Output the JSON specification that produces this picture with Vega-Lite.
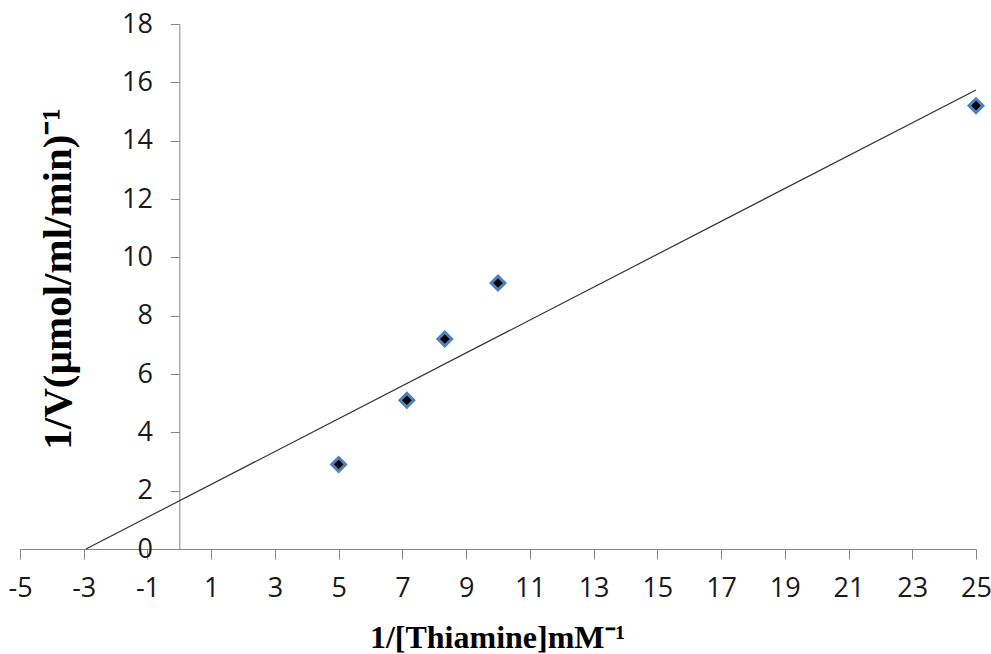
{
  "$schema": "https://vega.github.io/schema/vega-lite/v6.json",
  "width": 956,
  "height": 525,
  "autosize": {"type": "none"},
  "padding": {"left": 20, "top": 24, "right": 15, "bottom": 105},
  "background": "white",
  "config": {"view": {"stroke": null}},
  "layer": [
    {
      "data": {"values": [{"x": -2.93, "y": 0}, {"x": 25, "y": 15.74}]},
      "mark": {"type": "line", "color": "#333333", "strokeWidth": 1.2},
      "encoding": {
        "x": {"field": "x", "type": "quantitative", "scale": {"domain": [-5, 25], "nice": false, "zero": false}},
        "y": {"field": "y", "type": "quantitative", "scale": {"domain": [0, 18], "nice": false}}
      }
    },
    {
      "data": {"values": [
        {"x": 5, "y": 2.9},
        {"x": 7.14, "y": 5.1},
        {"x": 8.33, "y": 7.2},
        {"x": 10, "y": 9.12},
        {"x": 25, "y": 15.2}
      ]},
      "mark": {"type": "point", "shape": "diamond", "filled": true, "fill": "#000000", "stroke": "#4F81BD", "strokeWidth": 3, "size": 190, "opacity": 1},
      "encoding": {
        "x": {
          "field": "x", "type": "quantitative",
          "scale": {"domain": [-5, 25], "nice": false, "zero": false},
          "axis": {
            "values": [-5, -3, -1, 1, 3, 5, 7, 9, 11, 13, 15, 17, 19, 21, 23, 25],
            "labelExpr": "'' + datum.value",
            "grid": false,
            "domainColor": "#868686",
            "tickColor": "#868686",
            "tickSize": 10,
            "labelFlush": false,
            "labelOverlap": false,
            "labelFont": "Open Sans",
            "labelFontSize": 27,
            "labelColor": "#1a1a1a",
            "labelPadding": 16,
            "title": "1/[Thiamine]mM⁻¹",
            "titleFont": "Liberation Serif",
            "titleFontWeight": "bold",
            "titleFontSize": 32,
            "titleColor": "#000000",
            "titleX": 477,
            "titleY": 98,
            "titleBaseline": "alphabetic",
            "titleAlign": "center"
          }
        },
        "y": {
          "field": "y", "type": "quantitative",
          "scale": {"domain": [0, 18], "nice": false},
          "axis": {
            "values": [0, 2, 4, 6, 8, 10, 12, 14, 16, 18],
            "offset": -159.33,
            "grid": false,
            "domainColor": "#868686",
            "tickColor": "#868686",
            "tickSize": 9,
            "labelOverlap": false,
            "labelFont": "Open Sans",
            "labelFontSize": 27,
            "labelColor": "#1a1a1a",
            "labelPadding": 18,
            "title": "1/V(µmol/ml/min)⁻¹",
            "titleFont": "Liberation Serif",
            "titleFontWeight": "bold",
            "titleFontSize": 41,
            "titleColor": "#000000",
            "titleAngle": 270,
            "titleX": -121,
            "titleY": 254.5,
            "titleBaseline": "middle",
            "titleAlign": "center"
          }
        }
      }
    }
  ]
}
